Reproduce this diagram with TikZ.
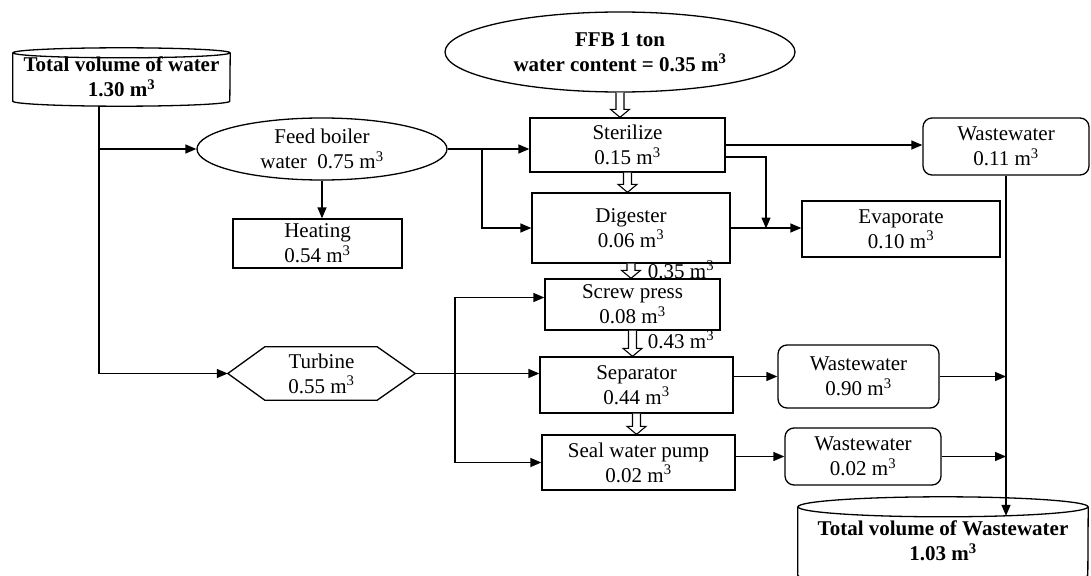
\documentclass[tikz,border=0pt]{standalone}
\usepackage{fontspec}
\setmainfont{Liberation Serif}
\usetikzlibrary{positioning,arrows.meta,calc,shapes.geometric}
\tikzset{
  fig/box/.style   ={draw, line width=1.3pt, inner sep=0pt, align=center},
  fig/round/.style ={fig/box, rounded corners=9pt},
  fig/oval/.style  ={fig/box, ellipse},
  fig/plain/.style ={inner sep=0pt, align=center},
  fig/line/.style  ={line width=1.3pt},
  fig/arr/.style   ={-{Triangle[length=11pt, width=9pt]}, line width=1.3pt},
  fig/hollow/.style={line width=1.1pt, fill=white, line join=miter},
  fig/note/.style  ={inner sep=0pt}
}
% hollow flow arrow from the bottom of one node to the top of the next
\newcommand{\downflow}[2]{%
  \draw[fig/hollow] let \p1=(#1.south), \p2=(#2.north) in
    (\x1-4pt,\y1) -- (\x1-4pt,\y2+8pt) -- (\x1-9.5pt,\y2+8pt) -- (\x1,\y2)
    -- (\x1+9.5pt,\y2+8pt) -- (\x1+4pt,\y2+8pt) -- (\x1+4pt,\y1);}
\newcommand{\cub}{m\textsuperscript{3}}

\begin{document}
\begin{tikzpicture}[x=1pt, y=-1pt,
      every node/.style={font=\fontsize{21}{25}\selectfont}
  ]
    \useasboundingbox (0,0) rectangle (1091,575);

    % --- sources ---
    \node[fig/plain, minimum width=217pt, minimum height=48pt] (src) at (121.5,77)
         {\textbf{Total volume of water}\\\textbf{1.30 \cub}};
    \draw[fig/line] (src.north west) -- (src.south west)
         arc[start angle=180, end angle=360, x radius=108.5pt, y radius=5pt]
         -- (src.north east);
    \draw[fig/line] (src.north) ellipse[x radius=108.5pt, y radius=5pt];

    \node[fig/oval, minimum width=350pt, minimum height=80pt] (ffb) at (620,52)
         {\textbf{FFB 1 ton}\\\textbf{water content = 0.35 \cub}};
    \node[fig/oval, minimum width=250pt, minimum height=62pt] (boiler) at (322,149)
         {Feed boiler\\water~ 0.75 \cub};
    \node[fig/box, minimum width=169pt, minimum height=49pt] (heat) at (317.5,243.5)
         {Heating\\0.54 \cub};

    % --- process column ---
    \node[fig/box, minimum width=195pt, minimum height=54pt] (sterile) at (627.5,145)
         {Sterilize\\0.15 \cub};
    \node[fig/box, minimum width=198pt, minimum height=70pt] (digest) at (631,228)
         {Digester\\0.06 \cub};
    \node[fig/box, minimum width=175pt, minimum height=51pt] (screw) at (632.5,304.5)
         {Screw press\\0.08 \cub};
    \node[fig/box, minimum width=193pt, minimum height=56pt] (sep) at (636.5,385)
         {Separator\\0.44 \cub};
    \node[fig/box, minimum width=193pt, minimum height=55pt] (seal) at (638.5,462.5)
         {Seal water pump\\0.02 \cub};
    \node[fig/note] (lbl35) at (681,270) {0.35 \cub};
    \node[fig/note] (lbl43) at (681,340) {0.43 \cub};

    % --- turbine (hexagon) ---
    \node[fig/plain, minimum width=187pt, minimum height=53pt] (turb) at (321.5,373.5)
         {Turbine\\0.55 \cub};
    \draw[fig/line, line join=miter] (turb.west) -- ([xshift=37pt]turb.north west)
         -- ([xshift=-38pt]turb.north east) -- (turb.east)
         -- ([xshift=-38pt]turb.south east) -- ([xshift=37pt]turb.south west) -- cycle;

    % --- outlets ---
    \node[fig/round, minimum width=166pt, minimum height=57pt] (ww1) at (1006,146.5)
         {Wastewater\\0.11 \cub};
    \node[fig/box, minimum width=198pt, minimum height=56pt] (evap) at (901,229)
         {Evaporate\\0.10 \cub};
    \node[fig/round, minimum width=161pt, minimum height=63pt] (ww2) at (858.5,376.5)
         {Wastewater\\0.90 \cub};
    \node[fig/round, minimum width=156pt, minimum height=57pt] (ww3) at (863,456.5)
         {Wastewater\\0.02 \cub};

    % --- sink ---
    \node[fig/plain, minimum width=290pt, minimum height=68pt] (sink) at (943,541)
         {\textbf{Total volume of Wastewater}\\\textbf{1.03 \cub}};
    \draw[fig/line] (sink.north west) -- (sink.south west)
         arc[start angle=180, end angle=360, x radius=145pt, y radius=10pt]
         -- (sink.north east);
    \draw[fig/line] (sink.north) ellipse[x radius=145pt, y radius=10pt];

    % --- hollow flow arrows ---
    \downflow{ffb}{sterile}
    \downflow{sterile}{digest}
    \downflow{digest}{screw}
    \downflow{screw}{sep}
    \downflow{sep}{seal}

    % --- water supply ---
    \coordinate (srcdrop) at ($(src.south)+(-22.5,5)$);
    \draw[fig/arr] (srcdrop) |- (turb.west);
    \draw[fig/arr] (srcdrop |- boiler.west) -- (boiler.west);
    \draw[fig/arr] (boiler.south) -- (boiler.south |- heat.north);
    \draw[fig/arr] (boiler.east) -- (boiler.east -| sterile.west);
    \coordinate (bsplit) at ($(boiler.east)!0.42!(boiler.east -| sterile.west)$);
    \draw[fig/arr] (bsplit) |- (digest.west);

    \draw[fig/arr] (turb.east) -- (turb.east -| sep.west);
    \coordinate (tsplit) at ($(turb.east)!0.32!(turb.east -| sep.west)$);
    \draw[fig/arr] (tsplit) |- ([yshift=7pt]screw.west);
    \draw[fig/arr] (tsplit) |- (seal.west);

    % --- losses ---
    \draw[fig/arr] (sterile.east) -- (sterile.east -| ww1.west);
    \coordinate (evapjoin) at ($(digest.east)!0.5!(evap.west)$);
    \draw[fig/arr] ([yshift=-12pt]sterile.east) -| (evapjoin);
    \draw[fig/arr] (digest.east) -- (digest.east -| evap.west);
    \draw[fig/arr] (sep.east |- ww2.west) -- (ww2.west);
    \draw[fig/arr] (seal.east |- ww3.west) -- (ww3.west);

    % --- collection ---
    \coordinate (sinkin) at ($(ww1.south |- sink.north)+(0,9)$);
    \draw[fig/arr] (ww1.south) -- (sinkin);
    \draw[fig/arr] (ww2.east) -- (ww2.east -| sinkin);
    \draw[fig/arr] (ww3.east) -- (ww3.east -| sinkin);
  \end{tikzpicture}
\end{document}
